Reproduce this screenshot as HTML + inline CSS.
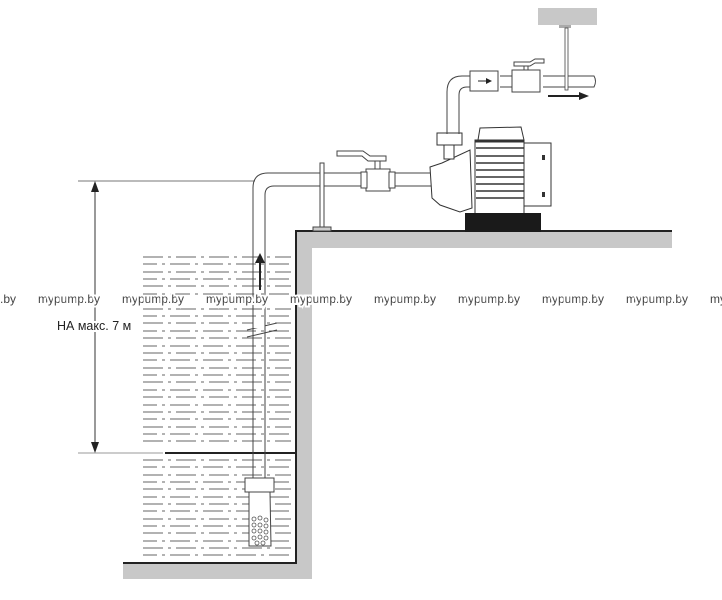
<!DOCTYPE html>
<html><head><meta charset="utf-8"><style>
html,body{margin:0;padding:0;background:#fff;width:722px;height:600px;overflow:hidden}
svg{display:block}
text{font-family:"Liberation Sans","Noto Sans CJK SC",sans-serif}
</style></head><body>
<svg width="722" height="600" viewBox="0 0 722 600" xmlns="http://www.w3.org/2000/svg">
<!-- ground -->
<path d="M296,231 L672,231 L672,248 L312,248 L312,579 L123,579 L123,563 L296,563 Z" fill="#c8c8c8"/>
<polyline points="123,563 296,563 296,231 672,231" fill="none" stroke="#222" stroke-width="2"/>
<!-- water dashes -->
<g stroke="#666" stroke-width="1" stroke-dasharray="20 5 3 5">
<line x1="143" y1="257" x2="291" y2="257"/><line x1="143" y1="264" x2="291" y2="264" stroke-dashoffset="6"/><line x1="143" y1="272" x2="291" y2="272"/><line x1="143" y1="279" x2="291" y2="279" stroke-dashoffset="6"/><line x1="143" y1="286" x2="291" y2="286"/><line x1="143" y1="294" x2="291" y2="294" stroke-dashoffset="6"/><line x1="143" y1="309" x2="291" y2="309"/><line x1="143" y1="316" x2="291" y2="316" stroke-dashoffset="6"/><line x1="143" y1="323" x2="291" y2="323"/><line x1="143" y1="331" x2="291" y2="331" stroke-dashoffset="6"/><line x1="143" y1="338" x2="291" y2="338"/><line x1="143" y1="346" x2="291" y2="346" stroke-dashoffset="6"/><line x1="143" y1="353" x2="291" y2="353"/><line x1="143" y1="360" x2="291" y2="360" stroke-dashoffset="6"/><line x1="143" y1="368" x2="291" y2="368"/><line x1="143" y1="375" x2="291" y2="375" stroke-dashoffset="6"/><line x1="143" y1="382" x2="291" y2="382"/><line x1="143" y1="390" x2="291" y2="390" stroke-dashoffset="6"/><line x1="143" y1="397" x2="291" y2="397"/><line x1="143" y1="405" x2="291" y2="405" stroke-dashoffset="6"/><line x1="143" y1="412" x2="291" y2="412"/><line x1="143" y1="419" x2="291" y2="419" stroke-dashoffset="6"/><line x1="143" y1="427" x2="291" y2="427"/><line x1="143" y1="434" x2="291" y2="434" stroke-dashoffset="6"/><line x1="143" y1="441" x2="291" y2="441"/><line x1="143" y1="460" x2="291" y2="460"/><line x1="143" y1="467" x2="291" y2="467" stroke-dashoffset="6"/><line x1="143" y1="475" x2="291" y2="475"/><line x1="143" y1="482" x2="291" y2="482" stroke-dashoffset="6"/><line x1="143" y1="489" x2="291" y2="489"/><line x1="143" y1="497" x2="291" y2="497" stroke-dashoffset="6"/><line x1="143" y1="504" x2="291" y2="504"/><line x1="143" y1="511" x2="291" y2="511" stroke-dashoffset="6"/><line x1="143" y1="519" x2="291" y2="519"/><line x1="143" y1="526" x2="291" y2="526" stroke-dashoffset="6"/><line x1="143" y1="533" x2="291" y2="533"/><line x1="143" y1="541" x2="291" y2="541" stroke-dashoffset="6"/><line x1="143" y1="548" x2="291" y2="548"/><line x1="143" y1="555" x2="291" y2="555" stroke-dashoffset="6"/>
</g>
<!-- water surface -->
<line x1="78" y1="453" x2="163" y2="453" stroke="#999" stroke-width="1"/>
<line x1="165" y1="453" x2="296" y2="453" stroke="#222" stroke-width="2"/>
<!-- top reference line -->
<line x1="78" y1="181" x2="255" y2="181" stroke="#777" stroke-width="1"/>
<!-- dimension -->
<line x1="95" y1="190" x2="95" y2="446" stroke="#333" stroke-width="1"/>
<path d="M95,181 L91,192 L99,192 Z" fill="#222"/>
<path d="M95,453 L91,442 L99,442 Z" fill="#222"/>
<!-- suction pipe -->
<g fill="none" stroke="#444" stroke-width="1">
<path d="M253,480 L253,188 Q253,173 268,173 L432,173"/>
<path d="M265,480 L265,195 Q265,186 274,186 L432,186"/>
<line x1="247" y1="330" x2="277" y2="323"/><line x1="247" y1="337" x2="277" y2="330"/>
</g>
<rect x="253.5" y="318" width="11" height="10" fill="#fff"/>
<line x1="260" y1="290" x2="260" y2="262" stroke="#222" stroke-width="2"/>
<path d="M260,253 L255,263 L265,263 Z" fill="#222"/>
<!-- support -->
<rect x="320" y="163" width="4" height="66" fill="#fff" stroke="#444"/>
<rect x="313" y="227" width="18" height="4" fill="#ccc" stroke="#444"/>
<!-- suction valve -->
<g fill="#fff" stroke="#444" stroke-width="1">
<rect x="366" y="169" width="24" height="22"/>
<rect x="361" y="172" width="6" height="16"/><rect x="389" y="172" width="6" height="16"/>
<rect x="375" y="159" width="5" height="10"/>
<path d="M337,151 L363,151 L370,156 L386,156 L386,161 L368,161 L362,156 L337,156 Z"/>
</g>
<!-- foot valve -->
<g fill="#fff" stroke="#444" stroke-width="1">
<rect x="245" y="478" width="29" height="14"/>
<path d="M249,492 L270,492 L271,546 L249,546 Z"/>
</g>
<g fill="none" stroke="#555" stroke-width="0.8">
<circle cx="254" cy="519" r="2"/><circle cx="260" cy="518" r="2"/><circle cx="266" cy="520" r="2"/>
<circle cx="254" cy="525" r="2"/><circle cx="260" cy="525" r="2"/><circle cx="266" cy="526" r="2"/>
<circle cx="254" cy="531" r="2"/><circle cx="260" cy="531" r="2"/><circle cx="266" cy="532" r="2"/>
<circle cx="254" cy="538" r="2"/><circle cx="260" cy="537" r="2"/><circle cx="266" cy="538" r="2"/>
<circle cx="257" cy="543" r="2"/><circle cx="263" cy="543" r="2"/>
</g>
<!-- pump -->
<g fill="#fff" stroke="#333" stroke-width="1">
<path d="M430,167 L442,163 L470,150 L472,208 L460,212 L440,205 L432,198 Z"/>
<rect x="437" y="133" width="25" height="12"/>
<rect x="444" y="145" width="10" height="14"/>
<rect x="524" y="143" width="27" height="63"/>
<path d="M478,140 L480,128 L521,127 L524,140 L524,215 L475,215 L475,140 Z"/>
</g>
<g stroke="#333" stroke-width="1.6">
<line x1="476" y1="148" x2="524" y2="148"/><line x1="476" y1="156" x2="524" y2="156"/><line x1="476" y1="163" x2="524" y2="163"/><line x1="476" y1="170" x2="524" y2="170"/><line x1="476" y1="177" x2="524" y2="177"/><line x1="476" y1="184" x2="524" y2="184"/><line x1="476" y1="191" x2="524" y2="191"/><line x1="476" y1="198" x2="524" y2="198"/>
</g>
<line x1="475" y1="141" x2="524" y2="141" stroke="#333" stroke-width="3"/>
<rect x="542" y="155" width="3" height="5" fill="#333"/><rect x="542" y="192" width="3" height="5" fill="#333"/>
<rect x="465" y="213" width="76" height="19" fill="#1a1a1a"/>
<!-- discharge pipe -->
<g fill="none" stroke="#444" stroke-width="1">
<path d="M447,134 L447,92 Q447,76 462,76 L470,76"/>
<path d="M459,134 L459,95 Q459,87 467,87 L470,87"/>
<line x1="500" y1="76" x2="512" y2="76"/><line x1="500" y1="87" x2="512" y2="87"/>
<path d="M543,76 L594,76 Q597,81 594,87 L543,87"/>
</g>
<g fill="#fff" stroke="#444" stroke-width="1">
<rect x="470" y="71" width="28" height="20"/>
<rect x="512" y="70" width="28" height="22"/>
<rect x="524" y="64" width="4" height="6"/>
<path d="M514,62 L530,62 L535,59 L544,59 L544,63 L535,63 L530,66 L514,66 Z"/>
</g>
<line x1="478" y1="81" x2="488" y2="81" stroke="#222"/><path d="M492,81 L486,78 L486,84 Z" fill="#222"/>
<rect x="538" y="8" width="59" height="17" fill="#c8c8c8"/>
<rect x="559" y="25" width="12" height="3" fill="#aaa"/>
<rect x="565" y="28" width="3" height="62" fill="#fff" stroke="#444" stroke-width="0.8"/>
<line x1="548" y1="96" x2="580" y2="96" stroke="#222" stroke-width="2"/>
<path d="M589,96 L579,92 L579,100 Z" fill="#222"/>
<!-- text -->
<text x="57" y="330" font-size="12.5" fill="#222" stroke="#fff" stroke-width="4" paint-order="stroke">НА макс. 7 м</text>
<g font-size="12" fill="#444" stroke="#fff" stroke-width="4" paint-order="stroke">
<text x="0" y="303">.by</text>
<text x="38" y="303" textLength="62">mypump.by</text>
<text x="122" y="303" textLength="62">mypump.by</text>
<text x="206" y="303" textLength="62">mypump.by</text>
<text x="290" y="303" textLength="62">mypump.by</text>
<text x="374" y="303" textLength="62">mypump.by</text>
<text x="458" y="303" textLength="62">mypump.by</text>
<text x="542" y="303" textLength="62">mypump.by</text>
<text x="626" y="303" textLength="62">mypump.by</text>
<text x="710" y="303">mypump.by</text>
</g>
</svg>
</body></html>
